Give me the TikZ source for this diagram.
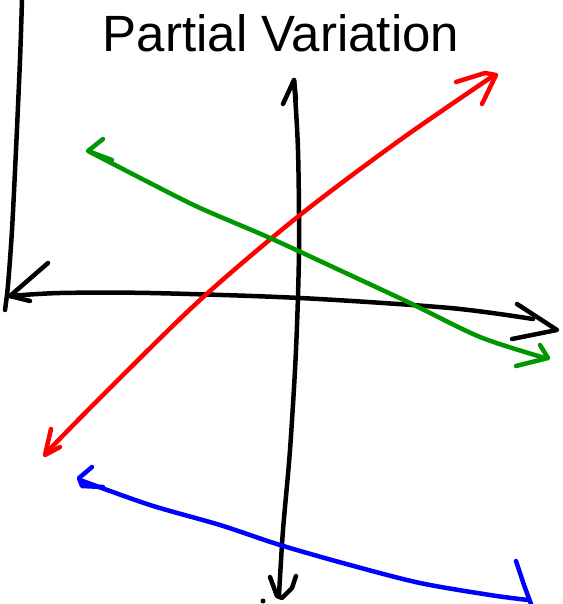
\documentclass[tikz,border=0pt]{standalone}
\usepackage{fontspec}
\setmainfont{Liberation Sans}
\usepackage{xcolor}
\definecolor{penred}{RGB}{255,0,0}
\definecolor{pengreen}{RGB}{0,150,0}
\definecolor{penblue}{RGB}{0,0,255}

\begin{document}
\begin{tikzpicture}[x=1pt,y=-1pt,pen/.style={line width=4.5pt,line cap=round,line join=round}]
        \useasboundingbox (0,0) rectangle (562,604);
        \node[font=\fontsize{51}{55}\selectfont,anchor=base] (title) at (281,52) {Partial Variation};
        % left edge
        \draw[pen,black] plot[smooth] coordinates {(22,0) (20,60) (16,150) (12,230) (8,285) (5,310)};
        % horizontal axis
        \draw[pen,black] plot[smooth] coordinates {(10,296) (60,293) (150,293) (300,298) (450,308) (533,319)};
        \draw[pen,black] (48,263)--(10,296)--(30,301);
        \draw[pen,black] (517,304)--(557,330)--(512,339);
        % vertical axis
        \draw[pen,black] plot[smooth] coordinates {(294,80) (298,150) (299,250) (296,350) (290,450) (283,530) (279,595)};
        \draw[pen,black] (283,104)--(294,80)--(296,100);
        \draw[pen,black] (270,577)--(277,596)--(282,598)--(292,588)--(296,576);
        \fill (263,601) circle (2.5pt);
        % red
        \draw[pen,penred] plot[smooth] coordinates {(46,453) (100,398) (200,300) (300,215) (400,140) (493,76)};
        \draw[pen,penred] (456,82)--(485,73)--(496,75)--(482,104);
        \draw[pen,penred] (51,429)--(45,455)--(60,447);
        % green
        \draw[pen,pengreen] plot[smooth] coordinates {(90,152) (150,183) (200,208) (270,238) (350,275) (410,303) (480,337) (545,358)};
        \draw[pen,pengreen] (103,139)--(88,151)--(112,160);
        \draw[pen,pengreen] (540,345)--(548,358)--(516,366);
        % blue
        \draw[pen,penblue] plot[smooth] coordinates {(80,480) (150,505) (220,525) (280,545) (350,565) (420,583) (490,595) (528,600)};
        \draw[pen,penblue] (92,467)--(79,478)--(82,486)--(103,487);
        \draw[pen,penblue] (516,561)--(524,585)--(531,604);
\end{tikzpicture}
\end{document}
